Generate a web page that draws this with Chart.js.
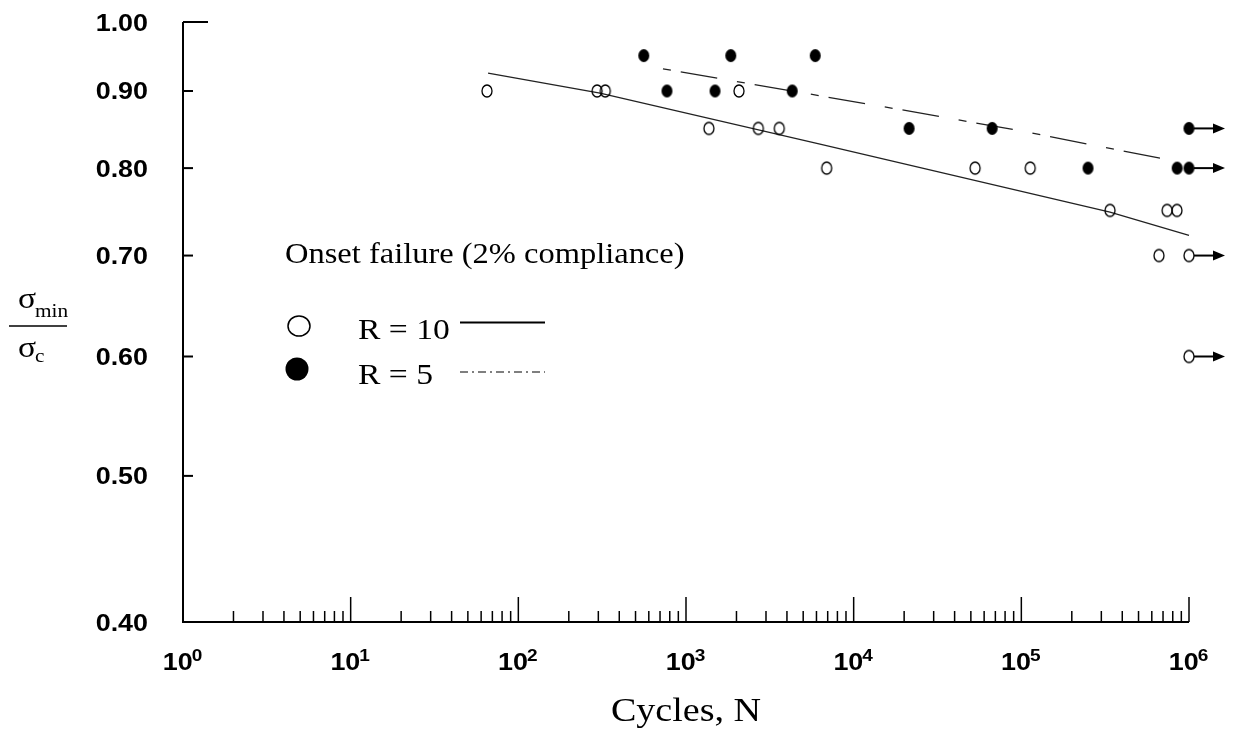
<!DOCTYPE html>
<html>
<head>
<meta charset="utf-8">
<title>Onset failure, R = 10 and R = 5</title>
<script src="https://cdn.jsdelivr.net/npm/chart.js@4/dist/chart.umd.min.js"></script>
<style>
  html, body { margin: 0; padding: 0; background: #ffffff; }
  #wrap { width: 1233px; height: 736px; }
</style>
</head>
<body>
<div id="wrap"><canvas id="chart" width="1233" height="736"></canvas></div>
<script>
// ---- data: cycles to onset failure (2% compliance) at each stress ratio ----
const r10Cycles = [65, 295, 330, 2070, 1370, 2700, 3600, 6900, 53000, 113000, 338000, 740000, 848000, 662000];
const r10Stress = [0.90, 0.90, 0.90, 0.90, 0.85, 0.85, 0.85, 0.80, 0.80, 0.80, 0.75, 0.75, 0.75, 0.70];
const r10RunoutCycles = [1e6, 1e6];
const r10RunoutStress = [0.70, 0.60];

const r5Cycles = [560, 1850, 5900, 770, 1490, 4300, 21400, 67000, 250000, 850000];
const r5Stress = [0.95, 0.95, 0.95, 0.90, 0.90, 0.90, 0.85, 0.85, 0.80, 0.80];
const r5RunoutCycles = [1e6, 1e6];
const r5RunoutStress = [0.85, 0.80];

// trend lines
const r10FitCycles = [66, 307, 6300, 338000, 1e6];
const r10FitStress = [0.925, 0.897, 0.830, 0.748, 0.722];
const r5FitCycles = [729, 21100, 98000, 760000];
const r5FitStress = [0.931, 0.873, 0.847, 0.810];

// axes
const xTickValues = [1, 10, 100, 1000, 10000, 100000, 1000000];
const xTickExponents = ['0', '1', '2', '3', '4', '5', '6'];
const yTickValues = [0.40, 0.50, 0.60, 0.70, 0.80, 0.90, 1.00];
const yTickLabels = ['0.40', '0.50', '0.60', '0.70', '0.80', '0.90', '1.00'];

const legendTitle = 'Onset failure (2% compliance)';
const seriesLabels = ['R = 10', 'R = 5'];
const xTitle = 'Cycles, N';

// ---- helpers ----
const toXY = (xs, ys) => xs.map((x, i) => ({ x: x, y: ys[i] }));
const textStretch = 1.12;
const sansBold = "bold 24px 'Liberation Sans', Arial, sans-serif";
const serif = (px) => px + "px 'Liberation Serif', 'Times New Roman', serif";

function marker(rx, ry, filled) {
  const c = document.createElement('canvas');
  c.width = Math.ceil(rx * 2 + 4);
  c.height = Math.ceil(ry * 2 + 4);
  const g = c.getContext('2d');
  g.beginPath();
  g.ellipse(c.width / 2, c.height / 2, rx, ry, 0, 0, Math.PI * 2);
  if (filled) { g.fillStyle = '#000'; g.fill(); }
  else { g.lineWidth = 1.3; g.strokeStyle = '#000'; g.stroke(); }
  return c;
}
const openMark = marker(5, 6, false);
const filledMark = marker(5.5, 6.5, true);

function drawText(ctx, s, x, y, font, align) {
  ctx.save();
  ctx.font = font;
  ctx.textBaseline = 'alphabetic';
  ctx.textAlign = 'left';
  const w = ctx.measureText(s).width * textStretch;
  const x0 = align === 'center' ? x - w / 2 : align === 'right' ? x - w : x;
  ctx.translate(x0, y);
  ctx.scale(textStretch, 1);
  ctx.fillStyle = '#000';
  ctx.fillText(s, 0, 0);
  ctx.restore();
  return w;
}
function textWidth(ctx, s, font) {
  ctx.save(); ctx.font = font;
  const w = ctx.measureText(s).width * textStretch;
  ctx.restore();
  return w;
}

// ---- axes, labels, legend and run-out arrows ----
const fatiguePlugin = {
  id: 'fatiguePlugin',
  beforeDatasetsDraw(chart) {
    const ctx = chart.ctx;
    const xs = chart.scales.x, ys = chart.scales.y;
    const a = chart.chartArea;
    ctx.save();
    ctx.strokeStyle = '#000';
    ctx.lineCap = 'butt';
    // axis lines
    ctx.lineWidth = 2;
    ctx.beginPath();
    ctx.moveTo(a.left, a.top);
    ctx.lineTo(a.left, a.bottom);
    ctx.lineTo(a.right, a.bottom);
    ctx.stroke();
    // y ticks (inward)
    ctx.lineWidth = 2;
    yTickValues.forEach(v => {
      const y = ys.getPixelForValue(v);
      const len = v === 1 ? 25 : 10;
      ctx.beginPath();
      ctx.moveTo(a.left, y);
      ctx.lineTo(a.left + len, y);
      ctx.stroke();
    });
    // x ticks (inward): decades long, 2..9 short
    ctx.lineWidth = 1.5;
    for (let k = 0; k < xTickValues.length; k++) {
      const dec = xTickValues[k];
      if (k > 0) {
        const x = xs.getPixelForValue(dec);
        ctx.beginPath();
        ctx.moveTo(x, a.bottom);
        ctx.lineTo(x, a.bottom - 25);
        ctx.stroke();
      }
      if (k < xTickValues.length - 1) {
        for (let m = 2; m <= 9; m++) {
          const x = xs.getPixelForValue(dec * m);
          ctx.beginPath();
          ctx.moveTo(x, a.bottom);
          ctx.lineTo(x, a.bottom - 11);
          ctx.stroke();
        }
      }
    }
    ctx.restore();
  },
  afterDatasetsDraw(chart) {
    const ctx = chart.ctx;
    const xs = chart.scales.x, ys = chart.scales.y;
    const a = chart.chartArea;

    // run-out arrows
    chart.data.datasets.forEach((ds, i) => {
      if (!ds.runout) return;
      chart.getDatasetMeta(i).data.forEach(pt => {
        const tip = pt.x + 36;
        ctx.save();
        ctx.strokeStyle = '#000';
        ctx.fillStyle = '#000';
        ctx.lineWidth = 2;
        ctx.beginPath();
        ctx.moveTo(pt.x + 5, pt.y);
        ctx.lineTo(tip - 10, pt.y);
        ctx.stroke();
        ctx.beginPath();
        ctx.moveTo(tip, pt.y);
        ctx.lineTo(tip - 12, pt.y - 5);
        ctx.lineTo(tip - 12, pt.y + 5);
        ctx.closePath();
        ctx.fill();
        ctx.restore();
      });
    });

    // y tick labels
    yTickValues.forEach((v, i) => {
      drawText(ctx, yTickLabels[i], a.left - 35, ys.getPixelForValue(v) + 8.5, sansBold, 'right');
    });

    // x tick labels 10^n
    const expFont = "bold 17px 'Liberation Sans', Arial, sans-serif";
    xTickValues.forEach((v, i) => {
      const x = xs.getPixelForValue(v);
      const wBase = textWidth(ctx, '10', sansBold);
      const wExp = textWidth(ctx, xTickExponents[i], expFont);
      const x0 = x - (wBase + wExp) / 2;
      drawText(ctx, '10', x0, a.bottom + 48, sansBold, 'left');
      drawText(ctx, xTickExponents[i], x0 + wBase - 1, a.bottom + 39, expFont, 'left');
    });

    // x title
    drawText(ctx, xTitle, xs.getPixelForValue(1000), a.bottom + 99, serif(34), 'center');

    // y title: sigma_min / sigma_c
    ctx.save();
    drawText(ctx, '\u03c3', 18, 308, serif(30), 'left');
    drawText(ctx, 'min', 35, 317, serif(19), 'left');
    ctx.strokeStyle = '#000';
    ctx.lineWidth = 1.5;
    ctx.beginPath();
    ctx.moveTo(9, 326);
    ctx.lineTo(67, 326);
    ctx.stroke();
    drawText(ctx, '\u03c3', 18, 357, serif(30), 'left');
    drawText(ctx, 'c', 35, 362, serif(19), 'left');
    ctx.restore();

    // legend
    drawText(ctx, legendTitle, 285, 263, serif(29), 'left');
    ctx.save();
    ctx.strokeStyle = '#000';
    ctx.fillStyle = '#000';
    ctx.lineWidth = 1.5;
    ctx.beginPath();
    ctx.ellipse(299, 326, 11, 10, 0, 0, Math.PI * 2);
    ctx.stroke();
    ctx.beginPath();
    ctx.ellipse(297, 369, 11.5, 11.5, 0, 0, Math.PI * 2);
    ctx.fill();
    ctx.lineWidth = 2;
    ctx.beginPath();
    ctx.moveTo(460, 322.5);
    ctx.lineTo(545, 322.5);
    ctx.stroke();
    ctx.lineWidth = 1.2;
    ctx.setLineDash([8, 4, 2, 4]);
    ctx.beginPath();
    ctx.moveTo(460, 372);
    ctx.lineTo(545, 372);
    ctx.stroke();
    ctx.restore();
    drawText(ctx, seriesLabels[0], 358, 339, serif(30), 'left');
    drawText(ctx, seriesLabels[1], 358, 384, serif(30), 'left');
  }
};

new Chart(document.getElementById('chart'), {
  type: 'scatter',
  data: {
    datasets: [
      { label: 'R = 10', data: toXY(r10Cycles, r10Stress), pointStyle: openMark, pointRadius: 6, clip: false },
      { label: 'R = 5', data: toXY(r5Cycles, r5Stress), pointStyle: filledMark, pointRadius: 6, clip: false },
      { label: 'R = 10 run-out', data: toXY(r10RunoutCycles, r10RunoutStress), pointStyle: openMark, pointRadius: 6, runout: true, clip: false },
      { label: 'R = 5 run-out', data: toXY(r5RunoutCycles, r5RunoutStress), pointStyle: filledMark, pointRadius: 6, runout: true, clip: false },
      { label: 'R = 10 trend', data: toXY(r10FitCycles, r10FitStress), showLine: true, pointRadius: 0,
        borderColor: '#222', borderWidth: 1.3, tension: 0, clip: false },
      { label: 'R = 5 trend', data: toXY(r5FitCycles, r5FitStress), showLine: true, pointRadius: 0,
        borderColor: '#222', borderWidth: 1.3, borderDash: [8, 10, 37, 20], tension: 0, clip: false }
    ]
  },
  options: {
    responsive: false,
    animation: false,
    devicePixelRatio: 1,
    layout: { padding: { left: 183, right: 44, top: 22, bottom: 114 } },
    plugins: { legend: { display: false }, tooltip: { enabled: false } },
    events: [],
    scales: {
      x: { type: 'logarithmic', min: 1, max: 1e6, display: false },
      y: { type: 'logarithmic', min: 0.4, max: 1.0, display: false }
    }
  },
  plugins: [fatiguePlugin]
});
</script>
</body>
</html>
